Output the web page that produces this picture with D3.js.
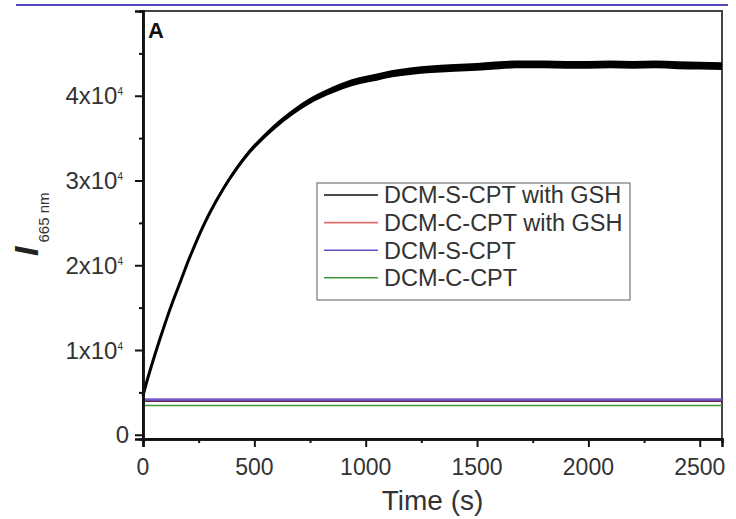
<!DOCTYPE html>
<html>
<head>
<meta charset="utf-8">
<script src="https://cdn.jsdelivr.net/npm/d3@7"></script>
<style>
  html, body { margin: 0; padding: 0; background: #fff; }
  svg { display: block; font-family: "Liberation Sans", Arial, sans-serif; }
</style>
</head>
<body>
<svg id="chart" width="736" height="519"></svg>
<script>
// ---- data ----
const times = [0, 10, 40, 76, 100, 135, 170, 200, 230, 256, 300, 360, 420, 495, 525, 585, 675, 750, 826, 900, 975, 1050, 1120, 1200, 1275, 1400, 1500, 1600, 1700, 1800, 1900, 2000, 2100, 2200, 2300, 2400, 2500, 2600];
const sWithGSH = [4600, 5600, 8300, 11300, 13200, 15800, 18200, 20300, 22200, 23800, 26200, 29000, 31400, 33900, 34700, 36200, 38100, 39400, 40400, 41200, 41800, 42200, 42600, 42900, 43100, 43300, 43400, 43600, 43700, 43700, 43650, 43650, 43700, 43650, 43700, 43600, 43550, 43500];
const noiseSpread = [80, 90, 100, 110, 120, 140, 160, 180, 200, 210, 230, 250, 270, 290, 300, 320, 340, 360, 380, 390, 400, 420, 430, 440, 450, 460, 460, 460, 460, 460, 460, 460, 460, 460, 460, 460, 460, 460];
const flatTimes = [0, 2600];
const cWithGSH = [4000, 4000];
const sCPT = [4150, 4150];
const cCPT = [3450, 3450];
const seriesNames = ["DCM-S-CPT with GSH", "DCM-C-CPT with GSH", "DCM-S-CPT", "DCM-C-CPT"];
const seriesColors = ["#111111", "#e07070", "#6a4cc8", "#3c9a3c"];
const yMajorTicks = [0, 10000, 20000, 30000, 40000];
const yMinorTicks = [5000, 15000, 25000, 35000, 45000];
const yTickMantissa = ["0", "1", "2", "3", "4"];
const xMajorTicks = [0, 500, 1000, 1500, 2000, 2500];
const xMinorTicks = [250, 750, 1250, 1750, 2250];

const svg = d3.select("#chart");
const x = d3.scaleLinear().domain([0, 2600]).range([143, 722]);
const y = d3.scaleLinear().domain([-500, 50000]).range([439, 11]);

// top blue rule
svg.append("line").attr("x1", 16).attr("x2", 728).attr("y1", 5).attr("y2", 5)
  .attr("stroke", "#5048c0").attr("stroke-width", 2);

// frame
svg.append("rect").attr("x", x(0)).attr("y", y(50000)).attr("width", x(2600) - x(0)).attr("height", y(-500) - y(50000))
  .attr("fill", "none").attr("stroke", "#444").attr("stroke-width", 2);

// flat series
const flatLine = (vals) => d3.line().x((d, i) => x(flatTimes[i])).y(d => y(d))(vals);
svg.append("path").attr("d", flatLine(cCPT)).attr("stroke", seriesColors[3]).attr("stroke-width", 1.6).attr("fill", "none");
svg.append("path").attr("d", flatLine(cWithGSH)).attr("stroke", "#5a2a3a").attr("stroke-width", 2.2).attr("fill", "none");
svg.append("path").attr("d", flatLine(sCPT)).attr("stroke", seriesColors[2]).attr("stroke-width", 2.6).attr("fill", "none").attr("opacity", 0.9);

// main noisy series as band + line
const band = d3.area()
  .x((d, i) => x(times[i]))
  .y0((d, i) => y(d - noiseSpread[i]))
  .y1((d, i) => y(d + noiseSpread[i]))
  .curve(d3.curveMonotoneX);
svg.append("path").attr("d", band(sWithGSH)).attr("fill", "#000");
const mainLine = d3.line().x((d, i) => x(times[i])).y(d => y(d)).curve(d3.curveMonotoneX);
svg.append("path").attr("d", mainLine(sWithGSH)).attr("stroke", "#000").attr("stroke-width", 3).attr("fill", "none");

// axes
const yAxis = svg.append("g").attr("transform", `translate(${x(0)},0)`)
  .call(d3.axisLeft(y).tickValues(yMajorTicks).tickSize(8).tickFormat(""));
const yAxisMinor = svg.append("g").attr("transform", `translate(${x(0)},0)`)
  .call(d3.axisLeft(y).tickValues(yMinorTicks).tickSize(4).tickFormat(""));
const xAxis = svg.append("g").attr("transform", `translate(0,${y(-500)})`)
  .call(d3.axisBottom(x).tickValues(xMajorTicks).tickSize(8).tickFormat(""));
const xAxisMinor = svg.append("g").attr("transform", `translate(0,${y(-500)})`)
  .call(d3.axisBottom(x).tickValues(xMinorTicks).tickSize(4).tickFormat(""));
[yAxis, yAxisMinor, xAxis, xAxisMinor].forEach(g => {
  g.select(".domain").attr("stroke", "#111").attr("stroke-width", 2.5);
  g.selectAll(".tick line").attr("stroke", "#111").attr("stroke-width", 2);
});

// y tick labels
yMajorTicks.forEach((v, i) => {
  const t = svg.append("text").attr("y", y(v)).attr("dy", "0.36em")
    .attr("font-size", 24).attr("fill", "#333").attr("text-anchor", "end");
  if (v === 0) {
    t.attr("x", 129).text(yTickMantissa[i]);
  } else {
    t.attr("x", 123);
    t.append("tspan").text(yTickMantissa[i] + "x10");
    t.append("tspan").attr("font-size", 10).attr("dy", -9).text("4");
  }
});

// x tick labels
svg.selectAll("text.xtl").data(xMajorTicks).enter().append("text")
  .attr("class", "xtl").attr("x", d => x(d)).attr("y", 475)
  .attr("text-anchor", "middle").attr("font-size", 23).attr("fill", "#333").text(d => d);

// axis titles
svg.append("text").attr("x", x(1300)).attr("y", 510).attr("text-anchor", "middle")
  .attr("font-size", 28).attr("fill", "#333").text("Time (s)");
const yt = svg.append("text").attr("transform", "translate(38,256) rotate(-90)").attr("fill", "#222");
yt.append("tspan").attr("font-size", 34).attr("font-style", "italic").attr("font-weight", "bold").text("I");
yt.append("tspan").attr("font-size", 15).attr("dx", 4).attr("dy", 11).attr("fill", "#333").text("665 nm");

// panel letter
svg.append("text").attr("x", 148).attr("y", 38).attr("font-size", 22).attr("font-weight", "bold").attr("fill", "#111").text("A");

// legend
const lg = svg.append("g");
lg.append("rect").attr("x", 317).attr("y", 183).attr("width", 313).attr("height", 117)
  .attr("fill", "#fff").attr("stroke", "#777").attr("stroke-width", 1.2);
seriesNames.forEach((name, i) => {
  const cy = 195 + i * 27.6;
  lg.append("line").attr("x1", 324).attr("x2", 378).attr("y1", cy).attr("y2", cy)
    .attr("stroke", seriesColors[i]).attr("stroke-width", 1.6);
  lg.append("text").attr("x", 384).attr("y", cy).attr("dy", "0.36em")
    .attr("font-size", 23.5).attr("fill", "#333").text(name);
});
</script>
</body>
</html>
